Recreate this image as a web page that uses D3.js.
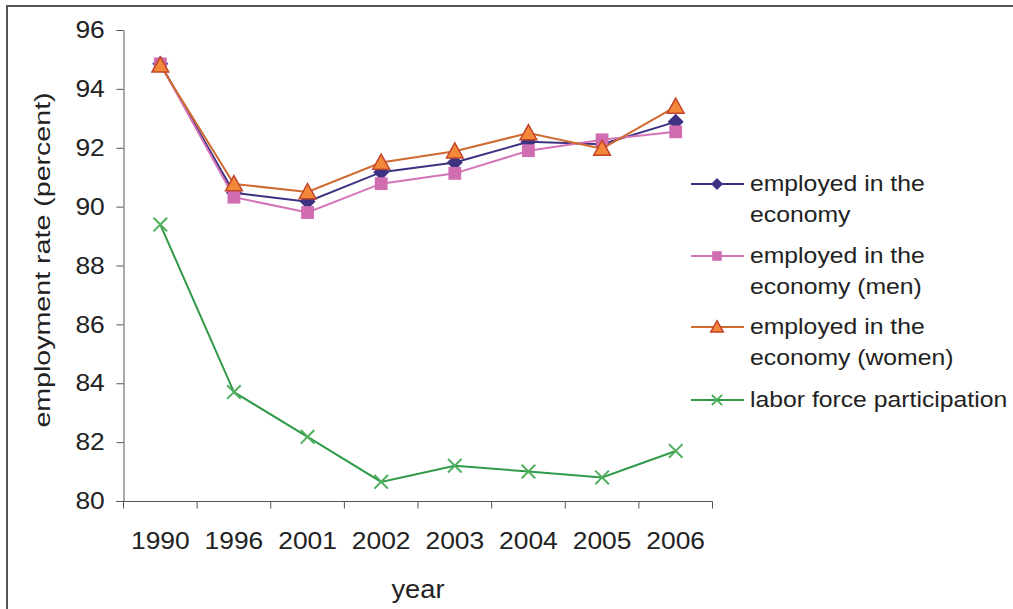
<!DOCTYPE html>
<html>
<head>
<meta charset="utf-8">
<script src="https://cdn.jsdelivr.net/npm/d3@7"></script>
<style>
  body { margin: 0; background: #fff; }
  svg { display: block; font-family: "Liberation Sans", Arial, sans-serif; }
</style>
</head>
<body>
<script>
const width = 1013;
const height = 609;

// data
const years = ["1990", "1996", "2001", "2002", "2003", "2004", "2005", "2006"];
const employed = [94.85, 90.47, 90.17, 91.17, 91.5, 92.2, 92.12, 92.88];
const employedMen = [94.85, 90.32, 89.8, 90.78, 91.13, 91.9, 92.27, 92.54];
const employedWomen = [94.8, 90.77, 90.5, 91.5, 91.88, 92.5, 91.97, 93.4];
const laborForce = [89.39, 83.7, 82.18, 80.65, 81.2, 81.0, 80.8, 81.7];
const yTicks = [80, 82, 84, 86, 88, 90, 92, 94, 96];

const series = [
  { name: ["employed in the", "economy"], values: employed, line: "#3d3282", shape: "diamond", fill: "#3d3282", stroke: "none" },
  { name: ["employed in the", "economy (men)"], values: employedMen, line: "#d374b6", shape: "square", fill: "#d06db0", stroke: "none" },
  { name: ["employed in the", "economy (women)"], values: employedWomen, line: "#cf6a30", shape: "triangle", fill: "#f4883a", stroke: "#c2442a" },
  { name: ["labor force participation"], values: laborForce, line: "#2f9a48", shape: "cross", fill: "none", stroke: "#4fae5c" }
];

const sx = 1.1; // the text in the picture is drawn a bit wide

const svg = d3.select("body").append("svg")
  .attr("width", width)
  .attr("height", height);

// frame
svg.append("path")
  .attr("d", "M7,609V6H1013")
  .attr("fill", "none")
  .attr("stroke", "#555")
  .attr("stroke-width", 2);

const x = d3.scaleBand().domain(years).range([123.5, 712.5]);
const y = d3.scaleLinear().domain([80, 96]).range([501, 30]);

// y axis
const gy = svg.append("g")
  .attr("transform", "translate(123.5,0)")
  .call(d3.axisLeft(y).tickValues(yTicks).tickSize(7).tickSizeOuter(0).tickPadding(10));
gy.selectAll("text")
  .attr("font-size", 24)
  .attr("fill", "#222")
  .attr("font-family", "Liberation Sans, Arial, sans-serif")
  .attr("transform", `scale(${sx},1)`);

// x axis: labels centred, ticks on the category borders
const gx = svg.append("g")
  .attr("transform", "translate(0,501.5)")
  .call(d3.axisBottom(x).tickSize(0).tickPadding(0));
gx.select(".domain").remove();
gx.selectAll("text")
  .attr("font-size", 24)
  .attr("fill", "#222")
  .attr("font-family", "Liberation Sans, Arial, sans-serif")
  .attr("dy", null)
  .attr("y", 48)
  .attr("transform", `scale(${sx},1)`)
  .attr("x", 0);

const borders = years.map(d => x(d)).concat([x.range()[1]]);
svg.append("g")
  .attr("stroke", "#555")
  .selectAll("line")
  .data(borders)
  .join("line")
  .attr("x1", d => d).attr("x2", d => d)
  .attr("y1", 501.5).attr("y2", 508.5);
svg.append("line")
  .attr("x1", 116).attr("x2", x.range()[1])
  .attr("y1", 501.5).attr("y2", 501.5)
  .attr("stroke", "#555");
gy.select(".domain").attr("stroke", "#555");
gy.selectAll(".tick line").attr("stroke", "#555");

// axis titles
svg.append("text")
  .attr("transform", "translate(418,598) scale(1.05,1)")
  .attr("text-anchor", "middle")
  .attr("font-size", 26)
  .attr("fill", "#222")
  .text("year");

svg.append("text")
  .attr("transform", "translate(50,260) rotate(-90) scale(1.3,1)")
  .attr("text-anchor", "middle")
  .attr("font-size", 22)
  .attr("fill", "#222")
  .text("employment rate (percent)");

function marker(sel, shape, s) {
  if (shape === "diamond") {
    sel.append("path").attr("d", `M0,${-s}L${s},0L0,${s}L${-s},0Z`);
  } else if (shape === "square") {
    const h = s * 0.8;
    sel.append("rect").attr("x", -h).attr("y", -h).attr("width", 2 * h).attr("height", 2 * h);
  } else if (shape === "triangle") {
    const h = s * 1.05;
    sel.append("path").attr("d", `M0,${-h}L${h},${h * 0.8}L${-h},${h * 0.8}Z`);
  } else {
    const h = s * 0.85;
    sel.append("path").attr("d", `M${-h},${-h}L${h},${h}M${h},${-h}L${-h},${h}`);
  }
}

const line = d3.line()
  .x((d, i) => x(years[i]) + x.bandwidth() / 2)
  .y(d => y(d));

// draw green first, then navy, pink, orange
const order = [3, 0, 1, 2];
order.forEach(k => {
  const s = series[k];
  const g = svg.append("g");
  g.append("path")
    .datum(s.values)
    .attr("fill", "none")
    .attr("stroke", s.line)
    .attr("stroke-width", 2)
    .attr("d", line);
  g.selectAll("g")
    .data(s.values)
    .join("g")
    .attr("transform", (d, i) => `translate(${x(years[i]) + x.bandwidth() / 2},${y(d)})`)
    .attr("fill", s.fill)
    .attr("stroke", s.stroke)
    .attr("stroke-width", s.shape === "cross" ? 2 : 1.5)
    .each(function () { marker(d3.select(this), s.shape, 8); });
});

// legend
const legendRows = [184, 256, 327, 400];
const legend = svg.append("g");
series.forEach((s, k) => {
  const g = legend.append("g").attr("transform", `translate(0,${legendRows[k]})`);
  g.append("line")
    .attr("x1", 691).attr("x2", 744)
    .attr("stroke", s.line)
    .attr("stroke-width", 2);
  const m = g.append("g")
    .attr("transform", "translate(717,0)")
    .attr("fill", s.fill)
    .attr("stroke", s.stroke)
    .attr("stroke-width", s.shape === "cross" ? 2 : 1.5);
  marker(m, s.shape, 6);
  s.name.forEach((t, j) => {
    g.append("text")
      .attr("transform", `translate(750,${7 + j * 31}) scale(1.1,1)`)
      .attr("font-size", 22.5)
      .attr("fill", "#222")
      .text(t);
  });
});
</script>
</body>
</html>
